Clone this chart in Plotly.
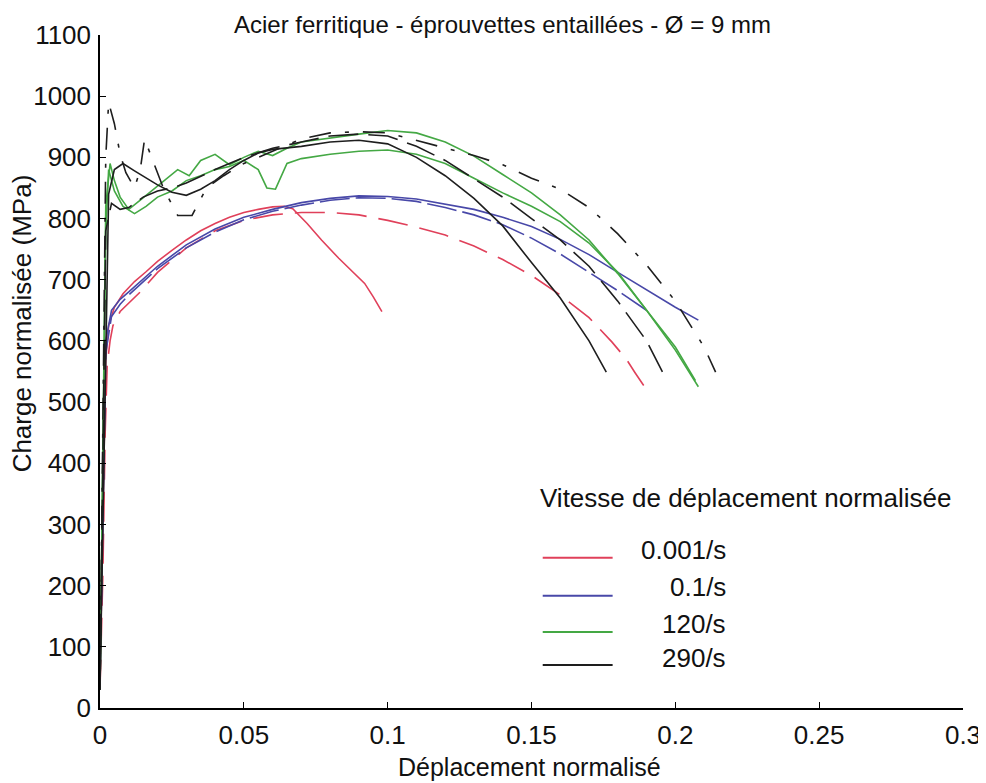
import plotly.graph_objects as go

title = 'Acier ferritique - éprouvettes entaillées - Ø = 9 mm'
x_label = 'Déplacement normalisé'
y_label = 'Charge normalisée (MPa)'
legend_title = 'Vitesse de déplacement normalisée'
speed_labels = ['0.001/s', '0.1/s', '120/s', '290/s']

# 0.001/s
red1_x = [0.0, 0.0008, 0.0015, 0.002, 0.003, 0.005, 0.008, 0.012, 0.016, 0.02, 0.025, 0.03, 0.035, 0.04,
          0.045, 0.05, 0.055, 0.06, 0.064, 0.067, 0.072, 0.077, 0.083, 0.088, 0.092, 0.095, 0.098]
red1_y = [40, 250, 480, 570, 625, 655, 677, 697, 713, 730, 748, 765, 780, 792,
          802, 810, 815, 819, 820, 816, 792, 765, 735, 712, 694, 672, 648]
red2_x = [0.0, 0.001, 0.0018, 0.0025, 0.0035, 0.0045, 0.007, 0.01, 0.014, 0.02, 0.03, 0.04, 0.05, 0.06,
          0.07, 0.08, 0.09, 0.1, 0.11, 0.12, 0.13, 0.14, 0.15, 0.16, 0.17, 0.178, 0.183, 0.186, 0.189]
red2_y = [30, 220, 450, 560, 600, 625, 648, 662, 680, 712, 752, 780, 797, 806,
          810, 810, 806, 797, 786, 773, 755, 733, 707, 675, 638, 598, 570, 548, 527]

# 0.1/s
blue1_x = [0.0, 0.001, 0.002, 0.004, 0.007, 0.01, 0.02, 0.03, 0.04, 0.05, 0.06, 0.07, 0.08, 0.09, 0.1,
           0.11, 0.12, 0.13, 0.14, 0.15, 0.16, 0.17, 0.18, 0.19, 0.2, 0.208]
blue1_y = [50, 300, 600, 650, 668, 680, 722, 757, 783, 802, 815, 826, 833, 837, 836,
           832, 824, 815, 802, 787, 766, 741, 712, 683, 655, 634]
blue2_x = [0.0, 0.001, 0.002, 0.004, 0.007, 0.01, 0.02, 0.03, 0.04, 0.05, 0.06, 0.07, 0.08, 0.09, 0.1,
           0.11, 0.12, 0.13, 0.14, 0.15, 0.16, 0.17, 0.18, 0.19]
blue2_y = [40, 280, 580, 640, 660, 675, 718, 752, 778, 798, 812, 822, 830, 834, 833,
           828, 818, 806, 790, 768, 742, 712, 682, 650]

# 120/s
green1_x = [0.0, 0.001, 0.002, 0.0035, 0.005, 0.007, 0.01, 0.014, 0.018, 0.022, 0.027, 0.031, 0.035, 0.04,
            0.045, 0.05, 0.055, 0.06, 0.065, 0.07, 0.08, 0.09, 0.1, 0.11, 0.12, 0.13, 0.14, 0.15, 0.16,
            0.17, 0.18, 0.19, 0.2, 0.207]
green1_y = [30, 400, 820, 890, 862, 835, 815, 830, 845, 860, 880, 870, 895, 905,
            888, 900, 910, 903, 915, 925, 932, 938, 944, 940, 925, 902, 872, 842, 806,
            765, 710, 650, 590, 535]
green2_x = [0.0, 0.001, 0.002, 0.003, 0.005, 0.008, 0.012, 0.016, 0.02, 0.025, 0.03, 0.035, 0.04, 0.045,
            0.05, 0.055, 0.058, 0.061, 0.065, 0.07, 0.08, 0.09, 0.1, 0.11, 0.12, 0.13, 0.14, 0.15, 0.16,
            0.17, 0.18, 0.19, 0.2, 0.208]
green2_y = [30, 380, 780, 880, 845, 820, 808, 820, 835, 845, 862, 870, 880, 885,
            895, 880, 850, 848, 890, 898, 905, 910, 912, 905, 890, 866, 842, 820, 795,
            760, 712, 650, 585, 525]

# 290/s
black1_x = [0.0, 0.001, 0.002, 0.003, 0.005, 0.008, 0.012, 0.016, 0.02, 0.025, 0.03, 0.035, 0.04, 0.045,
            0.05, 0.055, 0.06, 0.07, 0.08, 0.09, 0.1, 0.11, 0.12, 0.13, 0.14, 0.15, 0.16, 0.17, 0.176]
black1_y = [30, 300, 600, 840, 880, 890, 878, 866, 855, 843, 838, 848, 862, 880,
            895, 907, 913, 918, 925, 928, 922, 900, 870, 833, 788, 728, 670, 600, 549]
black2_x = [0.0, 0.001, 0.002, 0.004, 0.007, 0.01, 0.015, 0.02, 0.025, 0.03, 0.04, 0.05, 0.06, 0.07,
            0.08, 0.09, 0.1, 0.11, 0.12, 0.13, 0.14, 0.15, 0.16, 0.17, 0.18, 0.19, 0.196]
black2_y = [30, 400, 780, 825, 815, 818, 835, 845, 850, 858, 880, 900, 915, 925,
            935, 938, 935, 918, 895, 865, 835, 800, 765, 722, 665, 600, 545]
black3_x = [0.0, 0.001, 0.002, 0.003, 0.005, 0.007, 0.009, 0.012, 0.014, 0.0155, 0.018, 0.022, 0.027,
            0.032, 0.037, 0.043, 0.05, 0.06, 0.07, 0.08, 0.09, 0.1, 0.11, 0.12, 0.13, 0.14, 0.15, 0.16,
            0.17, 0.18, 0.19, 0.2, 0.21, 0.214]
black3_y = [30, 450, 900, 990, 955, 905, 875, 850, 880, 930, 900, 850, 805,
            805, 850, 870, 890, 910, 930, 940, 942, 940, 928, 915, 903, 888, 866, 848,
            818, 775, 724, 665, 590, 549]

red = '#e0405a'
blue = '#4848a8'
green = '#44a844'
black = '#1e1e1e'
colors = [red, blue, green, black]

curves = [
    (red1_x, red1_y, red, 'solid'),
    (red2_x, red2_y, red, '30px,12px'),
    (blue1_x, blue1_y, blue, 'solid'),
    (blue2_x, blue2_y, blue, '30px,6px'),
    (green1_x, green1_y, green, 'solid'),
    (green2_x, green2_y, green, 'solid'),
    (black1_x, black1_y, black, 'solid'),
    (black2_x, black2_y, black, '30px,10px'),
    (black3_x, black3_y, black, '22px,14px,4px,14px'),
]

fig = go.Figure()
for cx, cy, col, dash in curves:
    fig.add_trace(go.Scatter(x=cx, y=cy, mode='lines', showlegend=False,
                             line=dict(color=col, width=1.6, dash=dash)))

font = dict(family='Liberation Sans, Arial, sans-serif', size=26, color='#111111')
axis_style = dict(showline=True, linecolor='black', linewidth=1.5, ticks='inside', ticklen=6,
                  tickcolor='black', showgrid=False, zeroline=False, mirror=False, automargin=False)

# page body adds an 8px offset, so the figure is 8px smaller on each side
fig.update_layout(
    width=978, height=775,
    margin=dict(l=92, r=23, t=27, b=75),
    paper_bgcolor='white', plot_bgcolor='white',
    font=font,
    xaxis=dict(range=[0, 0.3], tick0=0, dtick=0.05, ticklabelstandoff=3, **axis_style),
    yaxis=dict(range=[0, 1100], tick0=0, dtick=100, ticklabelstandoff=2, **axis_style),
)

ann = [
    dict(text=title, x=0.466, y=1.015, xref='paper', yref='paper', showarrow=False,
         xanchor='center', yanchor='middle', font=dict(size=24)),
    dict(text=x_label, x=0.498, y=-0.087, xref='paper', yref='paper', showarrow=False,
         xanchor='center', yanchor='middle', font=dict(size=25)),
    dict(text=y_label, x=-0.09, y=0.572, xref='paper', yref='paper', showarrow=False,
         textangle=-90, xanchor='center', yanchor='middle', font=dict(size=26)),
    dict(text=legend_title, x=0.5075, y=0.312, xref='paper', yref='paper', showarrow=False,
         xanchor='left', yanchor='middle', font=dict(size=26)),
]
label_y = [0.2348, 0.1798, 0.1248, 0.0743]
line_y = [0.2233, 0.1669, 0.1129, 0.0639]
shapes = []
for lab, col, ly, sy in zip(speed_labels, colors, label_y, line_y):
    ann.append(dict(text=lab, x=0.7277, y=ly, xref='paper', yref='paper', showarrow=False,
                    xanchor='right', yanchor='middle', font=dict(size=26)))
    shapes.append(dict(type='line', xref='paper', yref='paper', x0=0.513, x1=0.594, y0=sy, y1=sy,
                       line=dict(color=col, width=2)))
fig.update_layout(annotations=ann, shapes=shapes)

fig.write_html("out.html")
